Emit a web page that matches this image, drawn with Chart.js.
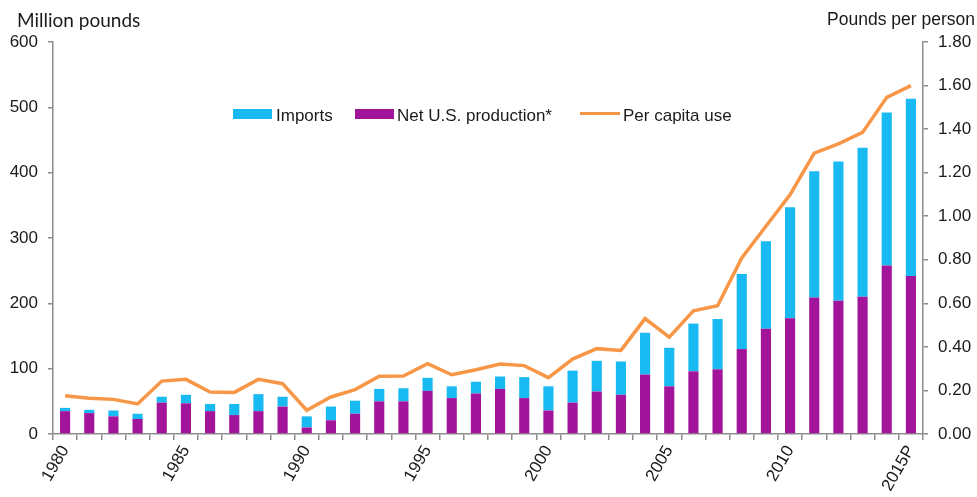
<!DOCTYPE html>
<html>
<head>
<meta charset="utf-8">
<script src="https://cdn.jsdelivr.net/npm/chart.js@4.4.1/dist/chart.umd.min.js"></script>
<style>
  html, body { margin: 0; padding: 0; background: #fff; }
  #wrap { position: relative; width: 977px; height: 497px; }
  .lbl { position: absolute; color: #1a1a1a; white-space: nowrap; line-height: 1; }
  .t-left { left: 17px; top: 8px; font: 19px Lato, "Open Sans", sans-serif; }
  .t-right { right: 2px; top: 9px; font: 17.5px "Liberation Sans", Arial, sans-serif; }
  .leg { font: 17px "Liberation Sans", Arial, sans-serif; top: 106px; }
  .sw { position: absolute; }
</style>
</head>
<body>
<div id="wrap">
  <canvas id="c" width="977" height="497"></canvas>
  <div class="lbl t-left">Million pounds</div>
  <div class="lbl t-right">Pounds per person</div>
  <div class="sw" style="left:233px;top:109px;width:39px;height:10px;background:#19B9F1"></div>
  <div class="lbl leg" style="left:276px">Imports</div>
  <div class="sw" style="left:355px;top:109px;width:39px;height:10px;background:#A2159B"></div>
  <div class="lbl leg" style="left:397px">Net U.S. production*</div>
  <div class="sw" style="left:580px;top:112px;width:40px;height:3px;background:#F79646"></div>
  <div class="lbl leg" style="left:623px">Per capita use</div>
</div>
<script>
  var years = ['1980', '1981', '1982', '1983', '1984', '1985', '1986', '1987', '1988', '1989',
    '1990', '1991', '1992', '1993', '1994', '1995', '1996', '1997', '1998', '1999',
    '2000', '2001', '2002', '2003', '2004', '2005', '2006', '2007', '2008', '2009',
    '2010', '2011', '2012', '2013', '2014', '2015P'];

  // million pounds
  var production = [35, 32, 27, 23, 48, 47, 35, 29, 35, 42,
    10, 21, 31, 50, 50, 66, 55, 62, 69, 55,
    36, 48, 65, 60, 91, 73, 96, 99, 130, 161,
    177, 209, 204, 210, 258, 242];
  var imports = [5, 5, 9, 8, 9, 13, 11, 17, 26, 15,
    17, 21, 20, 19, 20, 20, 18, 18, 19, 32,
    37, 49, 47, 51, 64, 59, 73, 77, 115, 134,
    170, 193, 213, 228, 234, 271];

  // pounds per person
  var perCapita = [0.176, 0.164, 0.159, 0.138, 0.243, 0.251, 0.193, 0.191, 0.251, 0.231,
    0.109, 0.170, 0.204, 0.265, 0.266, 0.323, 0.272, 0.295, 0.321, 0.314,
    0.259, 0.344, 0.392, 0.384, 0.530, 0.445, 0.566, 0.589, 0.808, 0.954,
    1.099, 1.290, 1.332, 1.385, 1.546, 1.600];

  var axisColor = '#8c8c8c';
  var textColor = '#1a1a1a';
  var tickFont = { family: '"Liberation Sans", Arial, sans-serif', size: 17 };

  new Chart(document.getElementById('c'), {
    type: 'bar',
    data: {
      labels: years,
      datasets: [
        {
          type: 'line',
          label: 'Per capita use',
          data: perCapita,
          yAxisID: 'y1',
          borderColor: '#F79646',
          borderWidth: 3.5,
          pointRadius: 0,
          tension: 0,
          order: 0,
        },
        {
          label: 'Net U.S. production*',
          data: production,
          backgroundColor: '#A2159B',
          yAxisID: 'y',
          order: 1,
        },
        {
          label: 'Imports',
          data: imports,
          backgroundColor: '#19B9F1',
          yAxisID: 'y',
          order: 2,
        },
      ],
    },
    options: {
      responsive: false,
      animation: false,
      layout: { padding: { top: 42, left: 0, right: 0, bottom: 0 } },
      datasets: { bar: { categoryPercentage: 1, barPercentage: 0.42 } },
      plugins: { legend: { display: false }, tooltip: { enabled: false } },
      scales: {
        x: {
          stacked: true,
          grid: { offset: true, drawOnChartArea: false, tickLength: 6, color: axisColor, lineWidth: 1.5 },
          border: { color: axisColor, width: 1.5 },
          afterFit: function (s) { s.height = 63; },
          ticks: {
            autoSkip: false,
            minRotation: 60,
            maxRotation: 60,
            padding: 2,
            color: textColor,
            font: tickFont,
            callback: function (v, i) { return i % 5 === 0 ? years[i] : ''; },
          },
        },
        y: {
          stacked: true,
          position: 'left',
          min: 0,
          max: 600,
          afterFit: function (s) { s.width = 53; },
          grid: { drawOnChartArea: false, tickLength: 5, color: axisColor, lineWidth: 1.5 },
          border: { color: axisColor, width: 1.5 },
          ticks: { stepSize: 100, padding: 10, color: textColor, font: tickFont },
        },
        y1: {
          position: 'right',
          min: 0,
          max: 1.8,
          afterFit: function (s) { s.width = 54; },
          grid: { drawOnChartArea: false, tickLength: 5, color: axisColor, lineWidth: 1.5 },
          border: { color: axisColor, width: 1.5 },
          ticks: {
            stepSize: 0.2,
            padding: 10,
            color: textColor,
            font: tickFont,
            callback: function (v) { return Number(v).toFixed(2); },
          },
        },
      },
    },
  });
</script>
</body>
</html>
